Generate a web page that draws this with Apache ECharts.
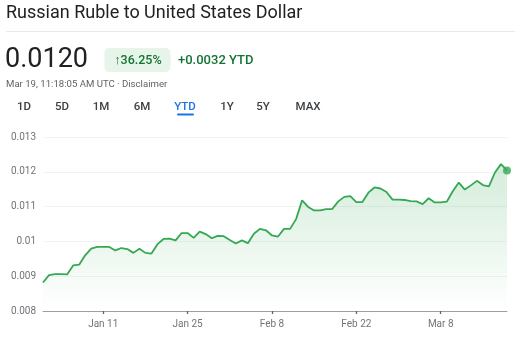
<!DOCTYPE html>
<html>
<head>
<meta charset="utf-8">
<script src="https://cdn.jsdelivr.net/npm/echarts@6/dist/echarts.min.js"></script>
<style>
  html, body { margin: 0; padding: 0; background: #fff; }
  #chart { width: 521px; height: 341px; }
</style>
</head>
<body>
<div id="chart"></div>
<script>
// Daily RUB→USD closes, one array per month (2025)
const janValues = [
  0.00882, 0.00903, 0.00906, 0.00906, 0.00905, 0.00931, 0.00933, 0.00960,
  0.00979, 0.00984, 0.00984, 0.00984, 0.00974, 0.00981, 0.00978, 0.00967,
  0.00979, 0.00967, 0.00965, 0.00992, 0.01007, 0.01008, 0.01003, 0.01024,
  0.01024, 0.01010, 0.01028, 0.01021, 0.01009, 0.01016, 0.01015
];
const febValues = [
  0.01004, 0.00994, 0.01003, 0.00995, 0.01022, 0.01036, 0.01032, 0.01017,
  0.01014, 0.01036, 0.01036, 0.01064, 0.01118, 0.01099, 0.01089, 0.01089,
  0.01093, 0.01093, 0.01115, 0.01128, 0.01130, 0.01113, 0.01113, 0.01140,
  0.01155, 0.01152, 0.01142, 0.01120
];
const marValues = [
  0.01120, 0.01119, 0.01116, 0.01115, 0.01107, 0.01124, 0.01112, 0.01112,
  0.01114, 0.01144, 0.01169, 0.01149, 0.01161, 0.01174, 0.01162, 0.01158,
  0.01198, 0.01222, 0.01204
];
const monthNames = ['Jan', 'Feb', 'Mar'];
const monthValues = [janValues, febValues, marValues];

// x-axis labels that get a tick
const tickLabels = ['Jan 11', 'Jan 25', 'Feb 8', 'Feb 22', 'Mar 8'];
// y-axis range
const yMin = 0.008, yMax = 0.013, yStep = 0.001;

// Header texts
const titleText = 'Russian Ruble to United States Dollar';
const priceText = '0.0120';
const changePct = '↑36.25%';
const changeAbs = '+0.0032 YTD';
const stampText = 'Mar 19, 11:18:05 AM UTC · Disclaimer';
const ranges = ['1D', '5D', '1M', '6M', 'YTD', '1Y', '5Y', 'MAX'];
const activeRange = 'YTD';

const categories = [];
const values = [];
monthValues.forEach((arr, m) => {
  arr.forEach((v, i) => {
    categories.push(monthNames[m] + ' ' + (i + 1));
    values.push(v);
  });
});

const GREEN = '#34a853';
const FONT = 'Roboto, "Noto Sans", sans-serif';

const chart = echarts.init(document.getElementById('chart'), null, { renderer: 'canvas' });

const rangeX = [24, 62, 101, 142, 185, 227, 263, 308];
const rangeEls = ranges.map((r, i) => ({
  type: 'text',
  x: rangeX[i], y: 107,
  style: {
    text: r, x: 0, y: 0,
    align: 'center', verticalAlign: 'middle',
    font: '500 11.5px ' + FONT,
    fill: r === activeRange ? '#1a73e8' : '#3c4043'
  }
}));

chart.setOption({
  animation: false,
  backgroundColor: '#ffffff',
  grid: { left: 43, right: 14, top: 137, bottom: 30 },
  xAxis: {
    type: 'category',
    data: categories,
    boundaryGap: false,
    axisLine: { show: true, lineStyle: { color: '#9aa0a6', width: 1 } },
    axisTick: {
      show: true,
      interval: (i, v) => tickLabels.includes(v),
      length: 3,
      lineStyle: { color: '#5f6368', width: 1.3 }
    },
    axisLabel: {
      interval: (i, v) => tickLabels.includes(v),
      color: '#70757a',
      fontFamily: FONT,
      fontSize: 10,
      margin: 8
    },
    splitLine: { show: false }
  },
  yAxis: {
    type: 'value',
    min: yMin, max: yMax, interval: yStep,
    axisLine: { show: false },
    axisTick: { show: false },
    axisLabel: { color: '#70757a', fontFamily: FONT, fontSize: 10, margin: 7 },
    splitLine: { lineStyle: { color: '#f1f3f4', width: 1 } }
  },
  series: [
    {
      type: 'line',
      data: values,
      showSymbol: false,
      smooth: false,
      lineStyle: { color: GREEN, width: 1.8 },
      areaStyle: {
        color: new echarts.graphic.LinearGradient(0, 0, 0, 1, [
          { offset: 0, color: 'rgba(52,168,83,0.30)' },
          { offset: 1, color: 'rgba(52,168,83,0.0)' }
        ])
      },
      z: 2
    },
    {
      type: 'scatter',
      data: [[categories[categories.length - 1], values[values.length - 1]]],
      symbol: 'circle',
      symbolSize: 8,
      itemStyle: { color: GREEN },
      z: 3
    }
  ],
  graphic: [
    {
      type: 'text', x: 6, y: 13,
      style: { text: titleText, x: 0, y: 0, verticalAlign: 'middle', font: '18px ' + FONT, fill: '#202124' }
    },
    {
      type: 'line', shape: { x1: 6, y1: 31.5, x2: 515, y2: 31.5 },
      style: { stroke: '#e8eaed', lineWidth: 1 }
    },
    {
      type: 'text', x: 5, y: 60,
      style: { text: priceText, x: 0, y: 0, verticalAlign: 'middle', font: '27px ' + FONT, fill: '#202124' }
    },
    {
      type: 'rect', shape: { x: 104.5, y: 48, width: 66, height: 24, r: 5 },
      style: { fill: '#e6f4ea' }
    },
    {
      type: 'text', x: 138, y: 60.5,
      style: { text: changePct, x: 0, y: 0, align: 'center', verticalAlign: 'middle', font: '500 12.5px ' + FONT, fill: '#137333' }
    },
    {
      type: 'text', x: 178, y: 60.5,
      style: { text: changeAbs, x: 0, y: 0, verticalAlign: 'middle', font: '500 13px ' + FONT, fill: '#137333' }
    },
    {
      type: 'text', x: 6, y: 84.5,
      style: { text: stampText, x: 0, y: 0, verticalAlign: 'middle', font: '9.6px ' + FONT, fill: '#5f6368' }
    },
    ...rangeEls,
    {
      type: 'rect', shape: { x: 177, y: 113.5, width: 17, height: 2, r: 1 },
      style: { fill: '#1a73e8' }
    }
  ]
});
</script>
</body>
</html>
